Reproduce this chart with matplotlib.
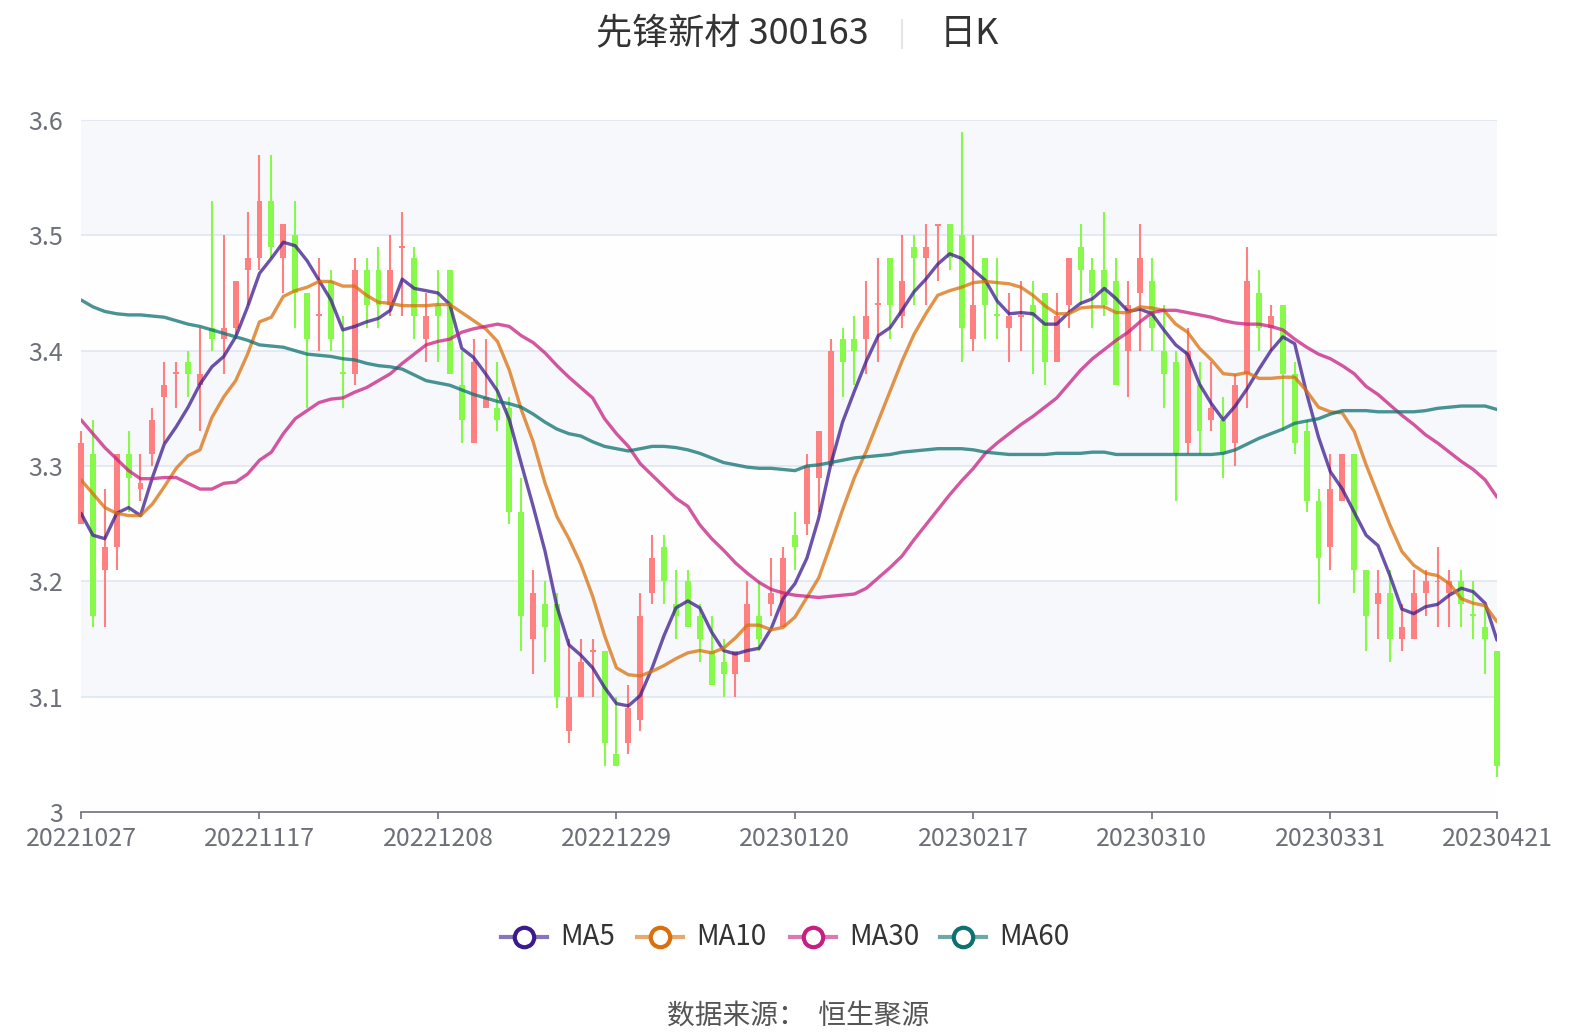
import matplotlib
matplotlib.use("Agg")
import matplotlib.pyplot as plt
import numpy as np

plt.rcParams['font.family'] = ['Noto Sans CJK SC', 'DejaVu Sans']

# Daily candles, 20221027 .. 20230421 (120 trading days)
opens = [
    3.25, 3.31, 3.21, 3.23, 3.31, 3.28, 3.31, 3.36, 3.38, 3.39,
    3.37, 3.42, 3.41, 3.42, 3.47, 3.48, 3.53, 3.48, 3.50, 3.45,
    3.43, 3.46, 3.381, 3.38, 3.47, 3.47, 3.44, 3.489, 3.48, 3.41,
    3.44, 3.47, 3.37, 3.32, 3.35, 3.35, 3.35, 3.26, 3.15, 3.18,
    3.18, 3.07, 3.10, 3.139, 3.14, 3.05, 3.06, 3.08, 3.19, 3.23,
    3.18, 3.20, 3.17, 3.14, 3.13, 3.12, 3.13, 3.17, 3.18, 3.16,
    3.24, 3.25, 3.29, 3.30, 3.41, 3.41, 3.41, 3.44, 3.48, 3.43,
    3.49, 3.48, 3.508, 3.51, 3.50, 3.41, 3.48, 3.431, 3.42, 3.429,
    3.44, 3.45, 3.39, 3.44, 3.49, 3.47, 3.47, 3.46, 3.40, 3.45,
    3.46, 3.40, 3.39, 3.32, 3.37, 3.34, 3.34, 3.32, 3.38, 3.45,
    3.42, 3.44, 3.38, 3.33, 3.27, 3.23, 3.27, 3.31, 3.21, 3.18,
    3.19, 3.15, 3.15, 3.19, 3.199, 3.19, 3.20, 3.171, 3.16, 3.14,
]
closes = [
    3.32, 3.17, 3.23, 3.31, 3.29, 3.285, 3.34, 3.37, 3.381, 3.38,
    3.38, 3.41, 3.42, 3.46, 3.48, 3.53, 3.49, 3.51, 3.45, 3.41,
    3.431, 3.41, 3.38, 3.47, 3.44, 3.44, 3.47, 3.49, 3.43, 3.43,
    3.43, 3.38, 3.34, 3.39, 3.36, 3.34, 3.26, 3.17, 3.19, 3.16,
    3.10, 3.10, 3.13, 3.14, 3.06, 3.04, 3.09, 3.17, 3.22, 3.20,
    3.17, 3.16, 3.15, 3.11, 3.12, 3.14, 3.18, 3.15, 3.19, 3.22,
    3.23, 3.30, 3.33, 3.40, 3.39, 3.40, 3.43, 3.441, 3.44, 3.46,
    3.48, 3.49, 3.51, 3.48, 3.42, 3.44, 3.44, 3.43, 3.43, 3.43,
    3.43, 3.39, 3.43, 3.48, 3.47, 3.45, 3.44, 3.37, 3.44, 3.48,
    3.42, 3.38, 3.31, 3.40, 3.33, 3.35, 3.31, 3.37, 3.46, 3.42,
    3.43, 3.38, 3.32, 3.27, 3.22, 3.28, 3.31, 3.21, 3.17, 3.19,
    3.15, 3.16, 3.19, 3.20, 3.20, 3.20, 3.18, 3.17, 3.15, 3.04,
]
highs = [
    3.33, 3.34, 3.28, 3.31, 3.33, 3.31, 3.35, 3.39, 3.39, 3.40,
    3.42, 3.53, 3.50, 3.46, 3.52, 3.57, 3.57, 3.51, 3.53, 3.45,
    3.48, 3.47, 3.43, 3.48, 3.48, 3.49, 3.50, 3.52, 3.49, 3.45,
    3.47, 3.47, 3.40, 3.41, 3.41, 3.39, 3.36, 3.29, 3.21, 3.20,
    3.19, 3.15, 3.15, 3.15, 3.14, 3.10, 3.11, 3.19, 3.24, 3.24,
    3.21, 3.21, 3.18, 3.17, 3.15, 3.14, 3.20, 3.20, 3.22, 3.23,
    3.26, 3.31, 3.33, 3.41, 3.42, 3.43, 3.46, 3.48, 3.48, 3.50,
    3.50, 3.51, 3.51, 3.51, 3.59, 3.50, 3.48, 3.48, 3.45, 3.46,
    3.46, 3.45, 3.45, 3.48, 3.51, 3.48, 3.52, 3.48, 3.46, 3.51,
    3.48, 3.44, 3.40, 3.42, 3.39, 3.39, 3.36, 3.38, 3.49, 3.47,
    3.44, 3.44, 3.39, 3.34, 3.28, 3.31, 3.31, 3.31, 3.21, 3.21,
    3.21, 3.18, 3.21, 3.21, 3.23, 3.21, 3.21, 3.20, 3.18, 3.14,
]
lows = [
    3.25, 3.16, 3.16, 3.21, 3.26, 3.27, 3.30, 3.32, 3.35, 3.36,
    3.33, 3.40, 3.38, 3.41, 3.44, 3.47, 3.48, 3.45, 3.42, 3.35,
    3.40, 3.40, 3.35, 3.37, 3.42, 3.42, 3.43, 3.43, 3.41, 3.39,
    3.39, 3.38, 3.32, 3.32, 3.35, 3.33, 3.25, 3.14, 3.12, 3.13,
    3.09, 3.06, 3.10, 3.10, 3.04, 3.04, 3.05, 3.07, 3.18, 3.18,
    3.15, 3.16, 3.13, 3.11, 3.10, 3.10, 3.13, 3.14, 3.17, 3.16,
    3.21, 3.24, 3.26, 3.30, 3.36, 3.37, 3.38, 3.39, 3.41, 3.42,
    3.44, 3.44, 3.46, 3.47, 3.39, 3.40, 3.41, 3.41, 3.39, 3.40,
    3.38, 3.37, 3.39, 3.42, 3.44, 3.42, 3.43, 3.37, 3.36, 3.40,
    3.40, 3.35, 3.27, 3.31, 3.31, 3.33, 3.29, 3.30, 3.35, 3.40,
    3.40, 3.33, 3.31, 3.26, 3.18, 3.21, 3.27, 3.19, 3.14, 3.15,
    3.13, 3.14, 3.15, 3.17, 3.16, 3.16, 3.16, 3.15, 3.12, 3.03,
]

# Moving averages as shown on the chart
ma5 = [
    3.259, 3.240, 3.237, 3.259, 3.264, 3.257, 3.290, 3.319, 3.334, 3.351,
    3.371, 3.386, 3.395, 3.412, 3.438, 3.467, 3.480, 3.494, 3.491, 3.478,
    3.461, 3.444, 3.418, 3.421, 3.425, 3.428, 3.435, 3.462, 3.454, 3.452,
    3.450, 3.440, 3.402, 3.394, 3.380, 3.365, 3.340, 3.302, 3.265, 3.226,
    3.178, 3.145, 3.136, 3.125, 3.108, 3.094, 3.092, 3.101, 3.125, 3.153,
    3.177, 3.183, 3.177, 3.156, 3.140, 3.137, 3.140, 3.142, 3.159, 3.185,
    3.198, 3.220, 3.255, 3.301, 3.338, 3.365, 3.391, 3.413, 3.420, 3.435,
    3.451, 3.462, 3.475, 3.484, 3.480, 3.470, 3.461, 3.443, 3.432, 3.433,
    3.432, 3.423, 3.423, 3.433, 3.441, 3.445, 3.454, 3.445, 3.434, 3.436,
    3.432, 3.418, 3.405, 3.397, 3.371, 3.354, 3.340, 3.352, 3.367, 3.384,
    3.400, 3.412, 3.406, 3.363, 3.325, 3.295, 3.280, 3.260, 3.240, 3.231,
    3.205, 3.176, 3.172, 3.178, 3.180, 3.188, 3.194, 3.191, 3.181, 3.149,
]
ma10 = [
    3.288, 3.276, 3.264, 3.259, 3.257, 3.257, 3.267, 3.282, 3.298, 3.309,
    3.314, 3.342, 3.360, 3.374, 3.397, 3.425, 3.429, 3.447, 3.452, 3.455,
    3.460, 3.460, 3.456, 3.456, 3.448, 3.442, 3.441, 3.439, 3.439, 3.439,
    3.440, 3.440, 3.433, 3.426, 3.419, 3.408, 3.383, 3.349, 3.321, 3.285,
    3.256, 3.237, 3.215, 3.187, 3.153, 3.125, 3.119, 3.118, 3.122, 3.127,
    3.133, 3.138, 3.140, 3.138, 3.142, 3.151, 3.162, 3.162, 3.158, 3.160,
    3.169, 3.186, 3.203, 3.232, 3.262, 3.290, 3.313, 3.339, 3.365, 3.391,
    3.414, 3.432, 3.448, 3.452, 3.455, 3.459, 3.460, 3.459, 3.458, 3.455,
    3.448, 3.439, 3.432, 3.432, 3.437, 3.438, 3.438, 3.433, 3.433, 3.438,
    3.437, 3.435, 3.423, 3.416, 3.402, 3.392, 3.380, 3.379, 3.381, 3.376,
    3.376, 3.377, 3.377, 3.365, 3.351, 3.347, 3.346, 3.330, 3.301, 3.275,
    3.249, 3.226, 3.214, 3.207, 3.205, 3.198, 3.185, 3.181, 3.179, 3.165,
]
ma30 = [
    3.340, 3.328, 3.316, 3.306, 3.296, 3.289, 3.289, 3.290, 3.290, 3.285,
    3.280, 3.280, 3.285, 3.286, 3.293, 3.305, 3.312, 3.328, 3.341, 3.348,
    3.355, 3.358, 3.359, 3.364, 3.368, 3.374, 3.380, 3.389, 3.397, 3.405,
    3.408, 3.410, 3.416, 3.419, 3.421, 3.423, 3.421, 3.413, 3.407, 3.398,
    3.387, 3.377, 3.368, 3.359, 3.341, 3.328, 3.317, 3.302, 3.292, 3.282,
    3.272, 3.265, 3.249, 3.237, 3.227, 3.216, 3.207, 3.199, 3.193, 3.190,
    3.188, 3.187, 3.186, 3.187, 3.188, 3.189, 3.194, 3.203, 3.212, 3.222,
    3.236, 3.249, 3.262, 3.275, 3.287, 3.298, 3.311, 3.320, 3.328, 3.336,
    3.343, 3.351, 3.359, 3.371, 3.383, 3.393, 3.401, 3.409, 3.416, 3.425,
    3.433, 3.435, 3.435, 3.433, 3.431, 3.429, 3.426, 3.424, 3.423, 3.423,
    3.421, 3.418, 3.410, 3.403, 3.397, 3.393, 3.387, 3.380, 3.369, 3.362,
    3.353, 3.344, 3.336, 3.327, 3.320, 3.312, 3.304, 3.297, 3.288, 3.273,
]
ma60 = [
    3.444, 3.438, 3.434, 3.432, 3.431, 3.431, 3.430, 3.429, 3.426, 3.423,
    3.421, 3.418, 3.415, 3.412, 3.409, 3.405, 3.404, 3.403, 3.400, 3.397,
    3.396, 3.395, 3.393, 3.392, 3.389, 3.387, 3.386, 3.384, 3.379, 3.374,
    3.372, 3.370, 3.366, 3.362, 3.359, 3.356, 3.354, 3.351, 3.345, 3.338,
    3.332, 3.328, 3.326, 3.321, 3.317, 3.315, 3.313, 3.315, 3.317, 3.317,
    3.316, 3.314, 3.311, 3.307, 3.303, 3.301, 3.299, 3.298, 3.298, 3.297,
    3.296, 3.300, 3.301, 3.303, 3.305, 3.307, 3.308, 3.309, 3.310, 3.312,
    3.313, 3.314, 3.315, 3.315, 3.315, 3.314, 3.312, 3.311, 3.310, 3.310,
    3.310, 3.310, 3.311, 3.311, 3.311, 3.312, 3.312, 3.310, 3.310, 3.310,
    3.310, 3.310, 3.310, 3.310, 3.310, 3.310, 3.311, 3.314, 3.319, 3.324,
    3.328, 3.332, 3.337, 3.339, 3.341, 3.345, 3.348, 3.348, 3.348, 3.347,
    3.347, 3.347, 3.347, 3.348, 3.350, 3.351, 3.352, 3.352, 3.352, 3.349,
]

tick_pos = [0, 15, 30, 45, 60, 75, 90, 105, 119]
tick_labels = ['20221027', '20221117', '20221208', '20221229', '20230120',
               '20230217', '20230310', '20230331', '20230421']
ma_names = ['MA5', 'MA10', 'MA30', 'MA60']
ma_colors = ['#3b1a8e', '#d9700b', '#c71f80', '#0e7070']

UP = '#ff8080'
DOWN = '#87f94b'
W, H = 1590, 1034

fig = plt.figure(figsize=(W / 100, H / 100), dpi=100)
fig.patch.set_facecolor('white')
ax = fig.add_axes([81 / W, 222 / H, 1416 / W, 692 / H])

# alternating background bands + grid lines
for i, y0 in enumerate(np.arange(3.0, 3.6, 0.1)):
    ax.axhspan(y0, y0 + 0.1, color='#fefefe' if i % 2 == 0 else '#f6f8fc', zorder=0, lw=0)
for y in np.arange(3.1, 3.61, 0.1):
    ax.axhline(y, color='#e0e6f1', lw=1.2, zorder=1)

# candles
x = np.arange(len(opens))
o = np.array(opens)
c = np.array(closes)
cols = [UP if cc >= oo else DOWN for oo, cc in zip(o, c)]
ax.vlines(x, lows, highs, colors=cols, lw=1.5, zorder=2, clip_on=False)
body_bottom = np.minimum(o, c)
body_h = np.maximum(np.abs(c - o), 0.0015)
ax.bar(x, body_h, bottom=body_bottom, width=0.5, color=cols, lw=0, zorder=3, clip_on=False)

# moving averages
for vals, col in zip([ma5, ma10, ma30, ma60], ma_colors):
    ax.plot(x, vals, color=col, lw=2.4, alpha=0.75, zorder=4, solid_capstyle='round')

ax.set_xlim(0, 119)
ax.set_ylim(3.0, 3.6)
ax.set_yticks([3.0, 3.1, 3.2, 3.3, 3.4, 3.5, 3.6])
ax.set_yticklabels(['3', '3.1', '3.2', '3.3', '3.4', '3.5', '3.6'])
ax.set_xticks(tick_pos)
ax.set_xticklabels(tick_labels)
ax.tick_params(axis='y', length=0, pad=13, labelsize=18, labelcolor='#6e7079')
ax.tick_params(axis='x', length=5, width=1.2, color='#6e7079', pad=5,
               labelsize=18, labelcolor='#6e7079')
for side in ['top', 'right', 'left']:
    ax.spines[side].set_visible(False)
ax.spines['bottom'].set_color('#6e7079')
ax.spines['bottom'].set_linewidth(1.2)
ax.spines['bottom'].set_zorder(5)

# overlay in pixel coordinates for title / legend / source
ov = fig.add_axes([0, 0, 1, 1])
ov.set_xlim(0, W)
ov.set_ylim(H, 0)
ov.axis('off')
ov.patch.set_alpha(0)

ov.text(869, 34, '先锋新材 300163', ha='right', va='center', fontsize=26, color='#333333')
ov.plot([902, 902], [20, 48], color='#e6e6e6', lw=1.5)
ov.text(940, 34, '日K', ha='left', va='center', fontsize=26, color='#333333')

legend_cx = [524, 660, 813, 963]
for cx, name, col in zip(legend_cx, ma_names, ma_colors):
    ov.plot([cx - 23, cx + 23], [937, 937], color=col, lw=3, alpha=0.6)
    ov.plot([cx], [937], marker='o', ms=14, mfc='white', mec=col, mew=3)
    ov.text(cx + 36, 937, name, ha='left', va='center', fontsize=20, color='#333333')

ov.text(798, 1017, '数据来源：  恒生聚源', ha='center', va='center', fontsize=20, color='#555555')

fig.savefig('out.png', dpi=100, facecolor='white')
